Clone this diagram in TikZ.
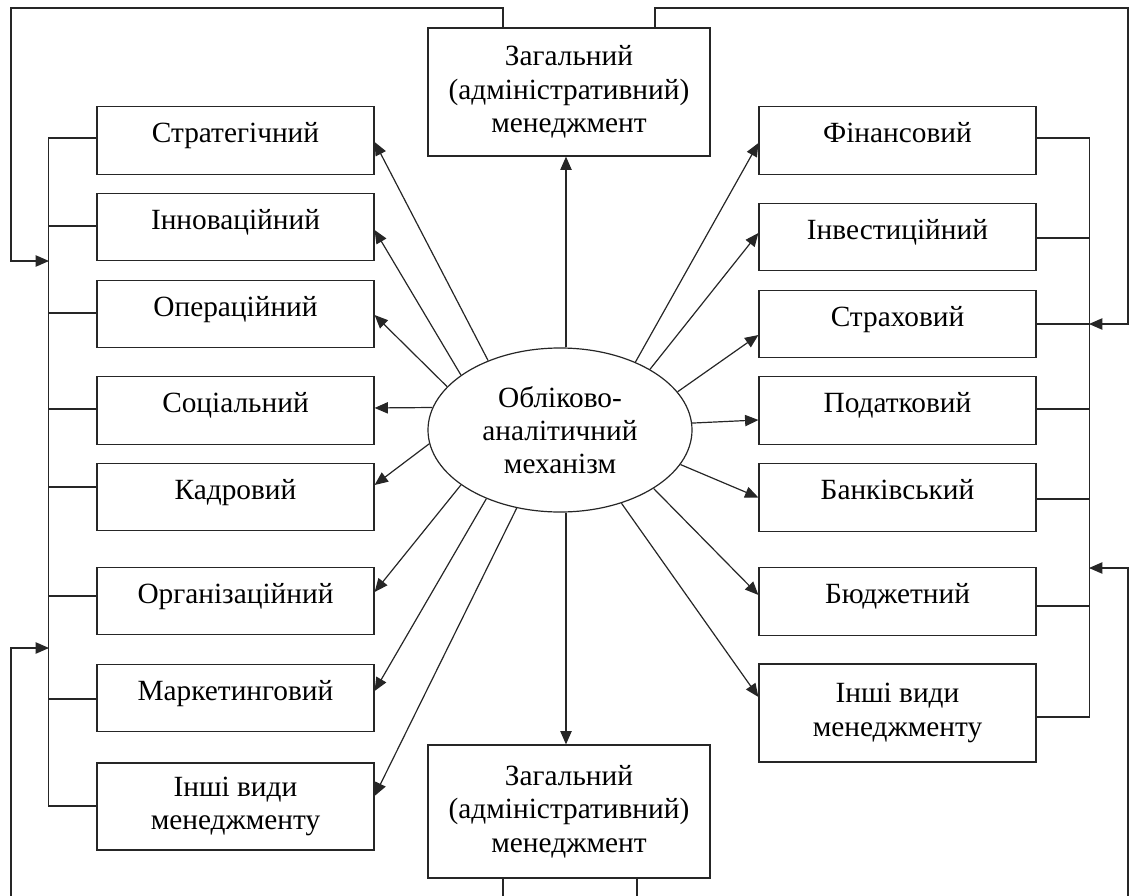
\documentclass[tikz,border=0pt]{standalone}
\usepackage{fontspec}
\setmainfont{Liberation Serif}
\usetikzlibrary{arrows.meta,shapes.geometric,calc}
\begin{document}
\begin{tikzpicture}[x=0.75pt,y=-0.75pt,
  every node/.style={font=\fontsize{22pt}{25pt}\selectfont},
  box/.style={draw=black!85, line width=0.9pt, inner sep=0pt, minimum width=207.75pt, minimum height=50.6pt, align=center},
  one/.style={text height=15pt, text depth=11.5pt},
  ln/.style={draw=black!85, line width=0.9pt},
  arr/.style={ln, -{Triangle[length=10pt,width=8.5pt]}}]
\useasboundingbox (0,0) rectangle (1133,896);
\clip (0,0) rectangle (1133,896);

% left boxes
\node[box,one] (s1) at (235.5,140.5) {Стратегічний};
\node[box,one] (s2) at (235.5,227) {Інноваційний};
\node[box,one] (s3) at (235.5,314) {Операційний};
\node[box,one] (s4) at (235.5,410.5) {Соціальний};
\node[box,one] (s5) at (235.5,497) {Кадровий};
\node[box,one] (s6) at (235.5,601) {Організаційний};
\node[box,one] (s7) at (235.5,698) {Маркетинговий};
\node[box,minimum height=65.25pt] (s8) at (235.5,806.5) {Інші види\\менеджменту};

% right boxes
\node[box,one] (r1) at (897.5,140.5) {Фінансовий};
\node[box,one] (r2) at (897.5,237) {Інвестиційний};
\node[box,one] (r3) at (897.5,324) {Страховий};
\node[box,one] (r4) at (897.5,410.5) {Податковий};
\node[box,one] (r5) at (897.5,497.5) {Банківський};
\node[box,one] (r6) at (897.5,601.5) {Бюджетний};
\node[box,minimum height=73.5pt] (r7) at (897.5,713) {Інші види\\менеджменту};

% top / bottom
\node[box,minimum width=211.5pt,minimum height=96pt] (top) at (569,92) {Загальний\\(адміністративний)\\менеджмент};
\node[box,minimum width=211.5pt,minimum height=99.75pt] (bot) at (569,811.5) {Загальний\\(адміністративний)\\менеджмент};

% centre
\node[ellipse,draw=black!85,line width=0.9pt,inner sep=0pt,minimum width=198pt,minimum height=123pt,align=center] (ell) at (560,430) {Обліково-\\аналітичний\\механізм};

% arrows from centre to left
\draw[arr] (ell.136.2) -- ([yshift=-1.1pt]s1.east);
\draw[arr] (ell.151.9) -- ([yshift=-2.25pt]s2.east);
\draw[arr] (ell.159.4) -- ([yshift=-0.75pt]s3.east);
\draw[arr] (ell.170.1) -- ([yshift=1.9pt]s4.east);
\draw[arr] (ell.186.9) -- ([yshift=9pt]s5.east);
\draw[arr] (ell.209.9) -- ([yshift=6.75pt]s6.east);
\draw[arr] (ell.223) -- ([yshift=5.25pt]s7.east);
\draw[arr] (ell.241.2) -- ([yshift=7.9pt]s8.east);

% arrows from centre to right
\draw[arr] (ell.42.7) -- ([yshift=-1.9pt]r1.west);
\draw[arr] (ell.34.2) -- ([yshift=3pt]r2.west);
\draw[arr] (ell.18.7) -- ([yshift=-8.25pt]r3.west);
\draw[arr] (ell.3.9) -- ([yshift=-7.1pt]r4.west);
\draw[arr] (ell.344.4) -- (r5.west);
\draw[arr] (ell.328.6) -- ([yshift=4.9pt]r6.west);
\draw[arr] (ell.310.5) -- ([yshift=12pt]r7.west);

% vertical arrows
\draw[arr] ($(ell.north)+(6,0)$) -- ($(top.south)+(-3,0)$);
\draw[arr] ($(ell.south)+(6,0)$) -- ($(bot.north)+(-3,0)$);

% left bus
\draw[ln] ([yshift=1.9pt]s1.west) -- ++(-48,0);
\draw[ln] ([yshift=0.75pt]s2.west) -- ++(-48,0);
\draw[ln] ([yshift=0.75pt]s3.west) -- ++(-48,0);
\draw[ln] ([yshift=1.1pt]s4.west) -- ++(-48,0);
\draw[ln] ([yshift=7.5pt]s5.west) -- ++(-48,0);
\draw[ln] ([yshift=3.75pt]s6.west) -- ++(-48,0);
\draw[ln] ([yshift=-0.75pt]s7.west) -- ++(-48,0);
\draw[ln] ([yshift=0.4pt]s8.west) -- ++(-48,0);
\draw[ln] ([yshift=1.9pt,xshift=-36pt]s1.west) -- ([yshift=0.4pt,xshift=-36pt]s8.west);

% right bus
\draw[ln] ([yshift=1.9pt]r1.east) -- ++(53,0);
\draw[ln] ([yshift=-0.75pt]r2.east) -- ++(53,0);
\draw[ln] (r3.east) -- ++(53,0);
\draw[ln] ([yshift=1.1pt]r4.east) -- ++(53,0);
\draw[ln] ([yshift=-1.1pt]r5.east) -- ++(53,0);
\draw[ln] ([yshift=-3.4pt]r6.east) -- ++(53,0);
\draw[ln] ([yshift=-3pt]r7.east) -- ++(53,0);
\draw[ln] ([yshift=1.9pt,xshift=39.75pt]r1.east) -- ([yshift=-3pt,xshift=39.75pt]r7.east);

% feedback loops
\coordinate (cTL) at (11,8);
\coordinate (cTR) at (1128,8);
\coordinate (cBL) at (11,912);
\coordinate (cBR) at (1128,912);
\coordinate (inL1) at (49,261);
\coordinate (inL2) at (49,648);
\coordinate (inR1) at (1089,324);
\coordinate (inR2) at (1089,568);
\draw[arr] ([xshift=-49.5pt]top.north) |- (cTL) |- (inL1);
\draw[arr] ([xshift=64.5pt]top.north) |- (cTR) |- (inR1);
\draw[arr] ([xshift=-49.5pt]bot.south) |- (cBL) |- (inL2);
\draw[arr] ([xshift=51pt]bot.south) |- (cBR) |- (inR2);
\end{tikzpicture}
\end{document}
